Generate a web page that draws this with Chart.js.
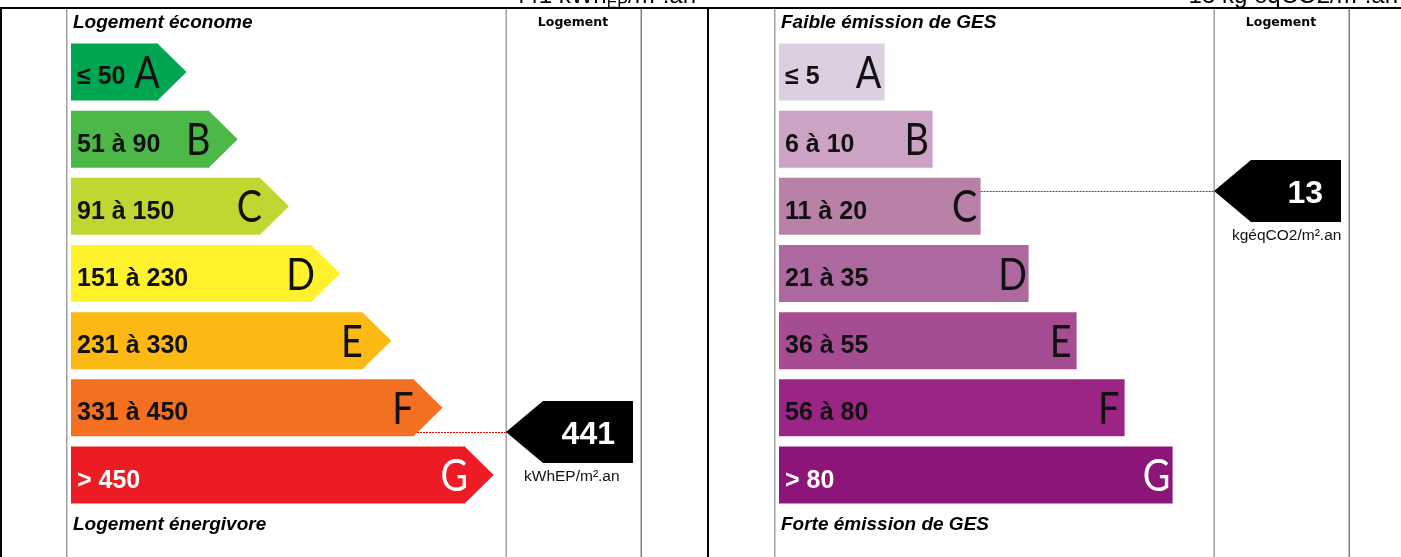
<!DOCTYPE html>
<html><head><meta charset="utf-8">
<script src="https://cdn.jsdelivr.net/npm/chart.js@4.4.1/dist/chart.umd.min.js"></script>
<style>
html,body{margin:0;padding:0;background:#fff;overflow:hidden;width:1401px;height:557px;}
#wrapL{position:absolute;left:0;top:0;width:708px;height:557px;}
#wrapR{position:absolute;left:708px;top:0;width:693px;height:557px;}
</style></head><body>
<div id="wrapL"><canvas id="cL"></canvas></div>
<div id="wrapR"><canvas id="cR"></canvas></div>
<script>
// ---- data ----
const classLetters = ['A','B','C','D','E','F','G'];
const classRank = [1,2,3,4,5,6,7];

const energyRanges = ['≤ 50','51 à 90','91 à 150','151 à 230','231 à 330','331 à 450','> 450'];
const energyLower = [0,51,91,151,231,331,451];
const energyUpper = [50,90,150,230,330,450,null];
const energyColors = ['#00a651','#4cb847','#bfd730','#fff22d','#fdb913','#f37021','#ed1c24'];
const energyValue = 441;
const energyUnit = 'kWhEP/m².an';
const energyTitles = ['Logement économe','Logement énergivore'];

const gesRanges = ['≤ 5','6 à 10','11 à 20','21 à 35','36 à 55','56 à 80','> 80'];
const gesLower = [0,6,11,21,36,56,81];
const gesUpper = [5,10,20,35,55,80,null];
const gesColors = ['#dccfe1','#cca3c5','#b980a8','#ad68a0','#a54c93','#9a2585','#8d1479'];
const gesValue = 13;
const gesUnit = 'kgéqCO2/m².an';
const gesTitles = ['Faible émission de GES','Forte émission de GES'];

const columnHeader = 'Logement';

// ---- helpers ----
function findClass(v, lower, upper){
  for (let i=0;i<lower.length;i++){
    if (v>=lower[i] && (upper[i]===null || v<=upper[i])) return i;
  }
  return lower.length-1;
}

function panelPlugin(cfg){
  return {
    id:'panel'+cfg.id,
    beforeDatasetsDraw(chart){
      const ctx = chart.ctx, W = chart.width, H = chart.height;
      ctx.save();
      // black frame lines
      ctx.fillStyle='#000';
      ctx.fillRect(0,7,W,2);
      if (cfg.id==='L'){ ctx.fillRect(0,7,2,H); ctx.fillRect(707,7,1,H); }
      else { ctx.fillRect(0,7,1,H); }
      // gray lines
      ctx.fillStyle='#a0a0a0';
      ctx.fillRect(66,9,1.5,H);
      ctx.fillRect(505.5,9,1.5,H);
      ctx.fillStyle='#808080';
      ctx.fillRect(640.5,9,1.5,H);
      // headers
      ctx.fillStyle='#000';
      ctx.textBaseline='alphabetic';
      ctx.textAlign='left';
      ctx.font='italic bold 19px "Liberation Sans", Arial, sans-serif';
      ctx.fillText(cfg.titles[0], 73, 28);
      ctx.fillText(cfg.titles[1], 73, 530);
      ctx.textAlign='center';
      ctx.font='bold 12.5px "DejaVu Sans", sans-serif';
      ctx.fillText(columnHeader, 573, 25.5);
      // clipped top text
      ctx.textAlign='left';
      const big='24px "Liberation Sans", Arial, sans-serif', small='16px "Liberation Sans", Arial, sans-serif';
      let parts = cfg.topParts;
      let total=0;
      parts.forEach(p=>{ctx.font=p.sub?small:big; total+=ctx.measureText(p.t).width;});
      let x = cfg.topRight - total;
      parts.forEach(p=>{ctx.font=p.sub?small:big; ctx.fillText(p.t, x, p.sub?8:3); x+=ctx.measureText(p.t).width;});
      // dotted indicator line
      const meta = chart.getDatasetMeta(0);
      const idx = findClass(cfg.value, cfg.lower, cfg.upper);
      const el = meta.data[idx];
      const top = el.y - el.height/2;
      const frac = cfg.upper[idx]===null ? 0.5 : (cfg.value-cfg.lower[idx])/(cfg.upper[idx]-cfg.lower[idx]);
      const ty = Math.round(top + frac*el.height);
      ctx.strokeStyle='#ff0000';
      ctx.lineWidth=1;
      ctx.setLineDash([2,1]);
      ctx.beginPath();
      ctx.moveTo(el.x, ty+0.5);
      ctx.lineTo(506, ty+0.5);
      ctx.stroke();
      ctx.setLineDash([]);
      chart.$ty = ty;
      ctx.restore();
    },
    afterDatasetsDraw(chart){
      const ctx = chart.ctx;
      const meta = chart.getDatasetMeta(0);
      ctx.save();
      meta.data.forEach((el,i)=>{
        const h = el.height, y = el.y, xEnd = el.x, xBase = el.base;
        if (cfg.tips){
          ctx.fillStyle = cfg.colors[i];
          ctx.beginPath();
          ctx.moveTo(xEnd-0.5, y-h/2);
          ctx.lineTo(xEnd+h/2, y);
          ctx.lineTo(xEnd-0.5, y+h/2);
          ctx.closePath();
          ctx.fill();
        }
        const white = i===6;
        ctx.fillStyle = white ? '#ffffff' : '#111111';
        ctx.textAlign='left';
        ctx.textBaseline='alphabetic';
        ctx.font='bold 25px "Liberation Sans", Arial, sans-serif';
        ctx.fillText(cfg.ranges[i], xBase+6, y+12.5);
        // letter
        ctx.save();
        ctx.translate(xEnd - cfg.letterOff, y+16);
        ctx.scale(0.84,1);
        ctx.font='400 45px Lato, "Open Sans", sans-serif';
        ctx.textAlign='center';
        ctx.fillText(classLetters[i], 0, 0);
        ctx.restore();
      });
      // indicator arrow
      const ty = chart.$ty;
      ctx.fillStyle='#000';
      ctx.beginPath();
      ctx.moveTo(506, ty);
      ctx.lineTo(543, ty-31);
      ctx.lineTo(633, ty-31);
      ctx.lineTo(633, ty+31);
      ctx.lineTo(543, ty+31);
      ctx.closePath();
      ctx.fill();
      ctx.fillStyle='#fff';
      ctx.font='bold 32px "Liberation Sans", Arial, sans-serif';
      ctx.textAlign='right';
      ctx.fillText(String(cfg.value), 615, ty+11.5);
      ctx.fillStyle='#111';
      ctx.font='15.5px "Liberation Sans", Arial, sans-serif';
      ctx.textAlign='left';
      ctx.fillText(cfg.unit, 524, ty+49);
      ctx.restore();
    }
  };
}

function makeChart(canvasId, cfg){
  return new Chart(document.getElementById(canvasId), {
    type:'bar',
    data:{labels: classLetters, datasets:[{
      data: classRank, backgroundColor: cfg.colors, base: cfg.xMin,
      barPercentage: 0.848, categoryPercentage: 1, borderWidth: 0
    }]},
    options:{
      indexAxis:'y', responsive:true, maintainAspectRatio:false, animation:false,
      devicePixelRatio:1,
      layout:{padding:{left:71, right:cfg.padRight, top:38.4, bottom:48.4}},
      scales:{
        x:{type:'linear', min:cfg.xMin, max:cfg.xMax, display:false, grid:{display:false}},
        y:{display:false, offset:true, grid:{display:false}}
      },
      plugins:{legend:{display:false}, tooltip:{enabled:false}},
      events:[]
    },
    plugins:[panelPlugin(cfg)]
  });
}

makeChart('cL', {
  id:'L', colors: energyColors, ranges: energyRanges, lower: energyLower, upper: energyUpper,
  value: energyValue, unit: energyUnit, titles: energyTitles, tips:true, letterOff: 11,
  xMin:-0.7, xMax:8, padRight:191.6, topRight:696,
  topParts:[{t: energyValue+' kWh'},{t:'EP', sub:true},{t:'/m².an'}]
});
makeChart('cR', {
  id:'R', colors: gesColors, ranges: gesRanges, lower: gesLower, upper: gesUpper,
  value: gesValue, unit: gesUnit, titles: gesTitles, tips:false, letterOff: 16,
  xMin:-1.2, xMax:7.5, padRight:204.4, topRight:690,
  topParts:[{t: gesValue+' kg éqCO2/m².an'}]
});
</script>
</body></html>
